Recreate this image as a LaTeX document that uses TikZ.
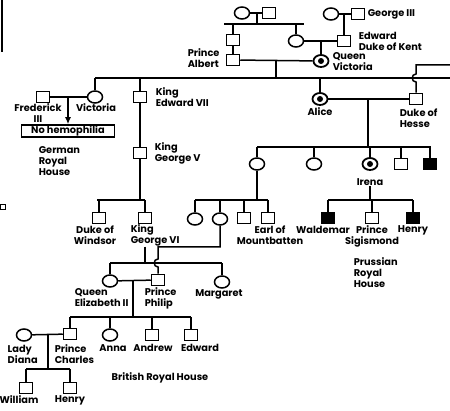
\documentclass[tikz,border=0pt]{standalone}
\usepackage{fontspec}
\setmainfont{Poppins}
\usetikzlibrary{arrows.meta,positioning,shapes.geometric}

\begin{document}
\begin{tikzpicture}[
x=1pt, y=-1pt,
line width=1.5pt,
male/.style={draw, rectangle, minimum width=13pt, minimum height=11pt, inner sep=0pt, fill=white},
female/.style={draw, ellipse, minimum width=15pt, minimum height=12pt, inner sep=0pt, fill=white},
carrier/.style={female, line width=1.8pt},
affected/.style={male, fill=black},
lbl/.style={font=\fontsize{9.8}{11}\selectfont\bfseries, inner sep=0pt, align=left},
arrow/.style={-{Latex[length=7pt, width=6pt]}}
]
\useasboundingbox (0,0) rectangle (450,411);

\node[female] (sophie) at (242,13) {};
\node[male] (francis) at (269,13) {};
\node[female] (charlotte) at (331,14) {};
\node[male] (george3) at (358,14) {};
\node[lbl, anchor=west] (george3lbl) at (367,14) {George III};

\node[male] (ernst) at (233,40) {};
\node[male] (albert) at (233,60) {};
\node[lbl, anchor=west] (albertlbl) at (187,58) {Prince\\Albert};
\node[female] (duchess) at (296,41) {};
\node[male] (kent) at (344,41) {};
\node[lbl, anchor=west] (kentlbl) at (358,41) {Edward\\Duke of Kent};
\node[carrier] (qv) at (321,61) {};
\node[lbl, anchor=west] (qvlbl) at (332,62) {Queen\\Victoria};

\coordinate (d1) at (257,13);
\coordinate (sib1) at (224,24);
\coordinate (sib1e) at (304,24);
\coordinate (d2) at (344,14);
\coordinate (d3) at (321,41);
\coordinate (d4) at (276,61);
\coordinate (sib2) at (95,78);
\coordinate (sib2e) at (450,78);

\draw (sophie) -- (francis);
\draw (d1) -- (d1 |- sib1);
\draw (sib1) -- (sib1e);
\draw (ernst) -- (ernst |- sib1);
\draw (ernst) -- (albert);
\draw (duchess) -- (duchess |- sib1);
\draw (charlotte) -- (george3);
\draw (d2) -- (kent);
\draw (duchess) -- (kent);
\draw (d3) -- (qv);
\draw (albert) -- (qv);
\draw (d4) -- (d4 |- sib2);
\draw (sib2) -- (sib2e);

% German royal house
\node[female] (vicky) at (95,97) {};
\node[male] (fred) at (43,97) {};
\node[lbl, align=center] (fredlbl) at (38,113) {Frederick\\III};
\node[lbl] (vickylbl) at (96,108) {Victoria};
\node[draw, lbl, minimum width=93pt, minimum height=12pt] (nohemo) at (68,131) {No hemophilia};
\node[lbl, anchor=west] (german) at (38,161) {German\\Royal\\House};
\coordinate (d5) at (68,97);
\draw (fred) -- (vicky);
\draw (vicky) -- (vicky |- sib2);
\draw[arrow] (d5) -- (nohemo);

% British royal house
\node[male] (edw7) at (140,97) {};
\node[lbl, anchor=west] (edw7lbl) at (155,97) {King\\Edward VII};
\node[male] (geo5) at (140,153) {};
\node[lbl, anchor=west] (geo5lbl) at (154,153) {King\\George V};
\node[male] (windsor) at (99,218) {};
\node[male] (geo6) at (145,218) {};
\node[lbl, align=center] (windsorlbl) at (95,235) {Duke of\\Windsor};
\node[lbl, anchor=west] (geo6lbl) at (130,235) {King\\George VI};
\coordinate (sib3) at (97,200);
\coordinate (sib3e) at (145,200);
\draw (edw7) -- (edw7 |- sib2);
\draw (edw7) -- (geo5);
\draw (geo5) -- (geo5 |- sib3);
\draw (sib3) -- (sib3e);
\draw (windsor) -- (windsor |- sib3);
\draw (geo6) -- (geo6 |- sib3);

% Hesse
\node[carrier] (alice) at (320,99) {};
\node[lbl] (alicelbl) at (320,112) {Alice};
\node[male] (hesse) at (416,99) {};
\node[lbl, anchor=west] (hesselbl) at (399,118) {Duke of\\Hesse};
\coordinate (hopa) at (416,82);
\coordinate (hopb) at (416,74);
\coordinate (hesseup) at (416,65);
\coordinate (hesseout) at (450,65);
\coordinate (d6) at (368,99);
\coordinate (sib4) at (257,147);
\coordinate (sib4e) at (431,147);
\draw (alice) -- (alice |- sib2);
\draw (alice) -- (hesse);
\draw (hesse) -- (hopa) .. controls +(-5,0) and +(-5,0) .. (hopb) -- (hesseup) -- (hesseout);
\draw (d6) -- (d6 |- sib4);
\draw (sib4) -- (sib4e);

\node[female] (vhesse) at (257,164) {};
\node[female] (ella) at (314,164) {};
\node[carrier] (irena) at (370,164) {};
\node[male] (ernstl) at (401,164) {};
\node[affected] (fritz) at (430,164) {};
\node[lbl] (irenalbl) at (370,182) {Irena};
\foreach \c in {vhesse,ella,irena,ernstl,fritz}
  \draw (\c) -- (\c |- sib4);

\node[female] (louise) at (195,219) {};
\node[female] (alicebat) at (220,219) {};
\node[male] (georgeb) at (244,218) {};
\node[male] (mountbatten) at (268,218) {};
\node[lbl, align=center] (mountlbl) at (270,235) {Earl of\\Mountbatten};
\coordinate (sib5) at (195,200);
\coordinate (sib5e) at (268,200);
\draw (vhesse) -- (vhesse |- sib5);
\draw (sib5) -- (sib5e);
\foreach \c in {louise,alicebat,georgeb,mountbatten}
  \draw (\c) -- (\c |- sib5);

% Prussia
\node[affected] (waldemar) at (328,218) {};
\node[male] (sigismund) at (372,218) {};
\node[affected] (henryp) at (413,218) {};
\node[lbl] (waldemarlbl) at (323,230) {Waldemar};
\node[lbl, align=center] (sigismundlbl) at (372,236) {Prince\\Sigismond};
\node[lbl] (henryplbl) at (413,230) {Henry};
\node[lbl, anchor=west] (prussian) at (353,273) {Prussian\\Royal\\House};
\coordinate (sib6) at (328,200);
\coordinate (sib6e) at (413,200);
\draw (irenalbl.south) -- (irenalbl.south |- sib6);
\draw (sib6) -- (sib6e);
\foreach \c in {waldemar,sigismund,henryp}
  \draw (\c) -- (\c |- sib6);

% Windsor
\node[female] (eliz) at (110,281) {};
\node[male] (philip) at (158,280) {};
\node[female] (margaret) at (222,282) {};
\node[lbl, anchor=west] (elizlbl) at (74,298) {Queen\\Elizabeth II};
\node[lbl, anchor=west] (philiplbl) at (144,298) {Prince\\Philip};
\node[lbl] (margaretlbl) at (219,294) {Margaret};
\coordinate (sib7) at (110,263);
\coordinate (sib7e) at (222,263);
\coordinate (ph1) at (158,247);
\coordinate (hopc) at (158,259);
\coordinate (hopd) at (158,267);
\draw (geo6 |- geo6lbl.south) -- (geo6 |- sib7);
\draw (sib7) -- (sib7e);
\draw (eliz) -- (eliz |- sib7);
\draw (margaret) -- (margaret |- sib7);
\draw (alicebat) |- (ph1) -- (hopc) .. controls +(-5,0) and +(-5,0) .. (hopd) -- (philip);

\node[male] (charles) at (70,334) {};
\node[female] (anne) at (110,335) {};
\node[male] (andrew) at (152,335) {};
\node[male] (edward) at (191,335) {};
\node[lbl, anchor=west] (charleslbl) at (54,354) {Prince\\Charles};
\node[lbl] (annelbl) at (113,348) {Anna};
\node[lbl] (andrewlbl) at (153,348) {Andrew};
\node[lbl] (edwardlbl) at (200,348) {Edward};
\coordinate (d8) at (133,281);
\coordinate (sib8) at (70,317);
\coordinate (sib8e) at (191,317);
\draw (eliz) -- (philip);
\draw (d8) -- (d8 |- sib8);
\draw (sib8) -- (sib8e);
\foreach \c in {charles,anne,andrew,edward}
  \draw (\c) -- (\c |- sib8);

\node[female] (diana) at (24,335) {};
\node[lbl, anchor=west] (dianalbl) at (7,354) {Lady\\Diana};
\node[male] (william) at (26,388) {};
\node[male] (harry) at (70,388) {};
\node[lbl] (williamlbl) at (19,400) {William};
\node[lbl] (harrylbl) at (70,400) {Henry};
\node[lbl] (british) at (160,378) {British Royal House};
\coordinate (d9) at (48,335);
\coordinate (sib9) at (26,369);
\coordinate (sib9e) at (70,369);
\draw (diana) -- (charles);
\draw (d9) -- (d9 |- sib9);
\draw (sib9) -- (sib9e);
\draw (william) -- (william |- sib9);
\draw (harry) -- (harry |- sib9);

% carrier dots
\foreach \c in {qv,alice,irena}
  \fill (\c) circle[radius=3pt];

% page edge marks
\coordinate (edgetop) at (2,0);
\coordinate (edgebot) at (2,52);
\draw[line width=2pt] (edgetop) -- (edgebot);
\node[draw, minimum size=5pt, inner sep=0pt, line width=0.8pt] (mark) at (3,207) {};
\end{tikzpicture}
\end{document}
